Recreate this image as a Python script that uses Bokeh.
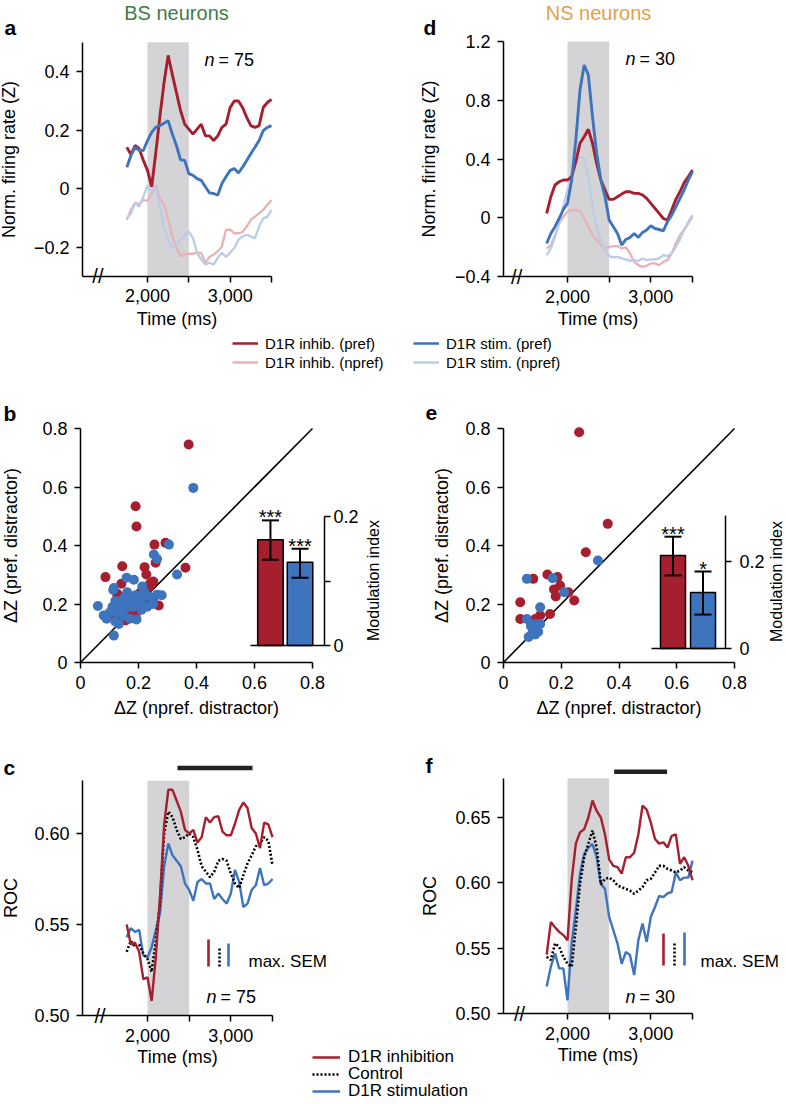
import math
from bokeh.plotting import figure
from bokeh.models import (Range1d, FixedTicker, CustomJSTickFormatter, NumeralTickFormatter,
                          LinearAxis, Label, Legend, LegendItem)
from bokeh.embed import file_html
from bokeh.resources import INLINE
from bokeh.core.properties import value

FONT = "Liberation Sans"
RED = "#a51f2e"
BLUE = "#3e73bd"
LRED = "#e8b2b6"
LBLUE = "#bacce6"
SHADE = "#d4d4d6"
GREEN = "#3e7d46"
ORANGE = "#e2a14a"

# ---------------- data ----------------
T = [1750, 1800, 1850, 1900, 1950, 2000, 2050, 2100, 2150, 2200, 2250, 2300, 2350, 2400, 2450,
     2500, 2550, 2600, 2650, 2700, 2750, 2800, 2850, 2900, 2950, 3000, 3050, 3100, 3150, 3200,
     3250, 3300, 3350, 3400, 3450, 3500]
STIM_PERIOD = [2000, 2500]

# panel a (BS neurons, normalised firing rate)
A_INHIB_PREF = [0.141, 0.116, 0.147, 0.136, 0.096, 0.062, 0.006, 0.121, 0.246, 0.362, 0.455, 0.39,
                0.328, 0.266, 0.22, 0.203, 0.186, 0.203, 0.22, 0.18, 0.18, 0.164, 0.18, 0.209,
                0.22, 0.277, 0.299, 0.299, 0.277, 0.243, 0.215, 0.209, 0.215, 0.277, 0.294, 0.305]
A_STIM_PREF = [0.073, 0.113, 0.141, 0.130, 0.130, 0.164, 0.192, 0.209, 0.215, 0.223, 0.232, 0.186,
               0.147, 0.098, 0.096, 0.051, 0.045, 0.034, 0.028, 0.006, -0.015, -0.017, -0.023, 0.017,
               0.040, 0.062, 0.068, 0.053, 0.073, 0.096, 0.119, 0.141, 0.164, 0.198, 0.209, 0.215]
A_INHIB_NPREF = [-0.107, -0.073, -0.049, -0.053, -0.04, -0.042, -0.017, 0.011, -0.034, -0.056, -0.107,
                 -0.164, -0.203, -0.232, -0.226, -0.223, -0.223, -0.22, -0.22, -0.254, -0.234, -0.226,
                 -0.215, -0.198, -0.141, -0.141, -0.153, -0.153, -0.149, -0.13, -0.107, -0.096,
                 -0.085, -0.073, -0.056, -0.04]
A_STIM_NPREF = [-0.102, -0.085, -0.051, -0.062, -0.028, 0.011, -0.011, 0.0, -0.062, -0.13, -0.175,
                -0.203, -0.192, -0.175, -0.158, -0.147, -0.17, -0.22, -0.243, -0.26, -0.254, -0.26,
                -0.237, -0.22, -0.234, -0.22, -0.203, -0.175, -0.164, -0.158, -0.164, -0.17, -0.13,
                -0.102, -0.096, -0.073]

# panel d (NS neurons)
D_INHIB_PREF = [0.03, 0.143, 0.223, 0.245, 0.257, 0.257, 0.28, 0.382, 0.507, 0.552, 0.602, 0.507,
                0.37, 0.257, 0.189, 0.125, 0.125, 0.143, 0.161, 0.177, 0.177, 0.166, 0.166, 0.155,
                0.132, 0.098, 0.064, 0.03, -0.005, -0.016, 0.052, 0.125, 0.177, 0.239, 0.28, 0.325]
D_STIM_PREF = [-0.175, -0.107, -0.061, -0.005, 0.057, 0.098, 0.257, 0.53, 0.87, 1.04, 0.973, 0.689,
               0.439, 0.257, 0.143, -0.016, -0.061, -0.107, -0.186, -0.148, -0.134, -0.107, -0.134,
               -0.1, -0.084, -0.055, -0.073, -0.08, -0.089, -0.027, 0.018, 0.075, 0.132, 0.189,
               0.257, 0.314]
D_INHIB_NPREF = [-0.209, -0.186, -0.118, -0.039, 0.007, 0.041, 0.052, 0.052, 0.048, -0.005, -0.061,
                 -0.118, -0.152, -0.186, -0.209, -0.198, -0.193, -0.193, -0.209, -0.202, -0.243,
                 -0.3, -0.323, -0.334, -0.327, -0.311, -0.311, -0.323, -0.3, -0.289, -0.243,
                 -0.175, -0.118, -0.08, -0.039, 0.007]
D_STIM_NPREF = [-0.255, -0.209, -0.13, -0.039, 0.075, 0.189, 0.28, 0.37, 0.416, 0.405, 0.28, 0.075,
                -0.061, -0.152, -0.22, -0.261, -0.27, -0.266, -0.277, -0.284, -0.293, -0.289,
                -0.293, -0.277, -0.289, -0.284, -0.284, -0.277, -0.255, -0.261, -0.243, -0.198,
                -0.148, -0.084, -0.027, 0.018]

# panel b scatter (BS): dZ npref (x) vs dZ pref (y)
B_INHIB_X = [0.373, 0.190, 0.193, 0.255, 0.293, 0.259, 0.221, 0.144, 0.227, 0.086, 0.251, 0.362,
             0.270, 0.141, 0.236, 0.127, 0.132, 0.155, 0.216, 0.127, 0.207, 0.224, 0.17, 0.20,
             0.12, 0.185, 0.25, 0.16, 0.11, 0.15, 0.19, 0.24]
B_INHIB_Y = [0.745, 0.534, 0.465, 0.403, 0.409, 0.341, 0.326, 0.329, 0.301, 0.292, 0.277, 0.324,
             0.195, 0.269, 0.257, 0.223, 0.149, 0.144, 0.246, 0.235, 0.240, 0.206, 0.17, 0.19,
             0.18, 0.225, 0.22, 0.21, 0.165, 0.19, 0.16, 0.27]
B_STIM_X = [0.389, 0.305, 0.253, 0.264, 0.333, 0.159, 0.184, 0.115, 0.213, 0.060, 0.080, 0.264,
            0.236, 0.207, 0.126, 0.193, 0.230, 0.115, 0.113, 0.132, 0.161, 0.132, 0.172, 0.207,
            0.161, 0.144, 0.10, 0.15, 0.18, 0.12, 0.14, 0.21, 0.17, 0.25, 0.19, 0.09, 0.16, 0.22,
            0.12, 0.28, 0.11, 0.20, 0.15]
B_STIM_Y = [0.597, 0.403, 0.369, 0.354, 0.301, 0.290, 0.283, 0.255, 0.260, 0.193, 0.161, 0.232,
            0.226, 0.223, 0.172, 0.147, 0.191, 0.092, 0.248, 0.132, 0.189, 0.195, 0.218, 0.212,
            0.240, 0.212, 0.17, 0.16, 0.19, 0.21, 0.17, 0.18, 0.15, 0.20, 0.23, 0.15, 0.20, 0.24,
            0.14, 0.23, 0.19, 0.20, 0.22]
# panel e scatter (NS)
E_INHIB_X = [0.262, 0.361, 0.285, 0.152, 0.187, 0.103, 0.196, 0.225, 0.181, 0.058, 0.245, 0.058,
             0.127, 0.161, 0.110, 0.175]
E_INHIB_Y = [0.787, 0.474, 0.377, 0.301, 0.292, 0.286, 0.263, 0.240, 0.226, 0.206, 0.212, 0.149,
             0.161, 0.166, 0.149, 0.25]
E_STIM_X = [0.327, 0.081, 0.170, 0.210, 0.127, 0.081, 0.110, 0.127, 0.087, 0.110, 0.100, 0.095, 0.120]
E_STIM_Y = [0.349, 0.286, 0.288, 0.240, 0.189, 0.149, 0.132, 0.132, 0.087, 0.096, 0.100, 0.125, 0.105]

# insets: modulation index (inhibition, stimulation)
B_MI = [0.164, 0.129]
B_MI_LO = [0.133, 0.105]
B_MI_HI = [0.194, 0.150]
B_SIG = ["***", "***"]
E_MI = [0.214, 0.129]
E_MI_LO = [0.168, 0.078]
E_MI_HI = [0.257, 0.177]
E_SIG = ["***", "*"]

# panel c (BS ROC)
C_INHIB = [0.550, 0.539, 0.540, 0.535, 0.520, 0.521, 0.508, 0.532, 0.565, 0.605, 0.624, 0.624,
           0.618, 0.612, 0.602, 0.600, 0.602, 0.595, 0.598, 0.609, 0.606, 0.609, 0.6095, 0.601,
           0.599, 0.599, 0.6055, 0.613, 0.617, 0.614, 0.603, 0.600, 0.592, 0.606, 0.605, 0.598]
C_CTRL = [0.535, 0.541, 0.5376, 0.539, 0.534, 0.531, 0.524, 0.541, 0.563, 0.600, 0.612, 0.609,
          0.602, 0.597, 0.598, 0.600, 0.598, 0.591, 0.582, 0.579, 0.576, 0.579, 0.585, 0.586,
          0.585, 0.578, 0.5725, 0.570, 0.577, 0.5835, 0.588, 0.593, 0.5945, 0.598, 0.596, 0.5825]
C_STIM = [0.543, 0.548, 0.546, 0.547, 0.533, 0.532, 0.5375, 0.547, 0.556, 0.582, 0.5945, 0.588,
          0.585, 0.582, 0.5725, 0.569, 0.563, 0.5734, 0.575, 0.5725, 0.5725, 0.564, 0.567, 0.564,
          0.5615, 0.567, 0.580, 0.5734, 0.5596, 0.5615, 0.569, 0.5716, 0.581, 0.5716, 0.5725, 0.575]
C_SEM = [0.0148, 0.0104, 0.0126]       # inhibition, control, stimulation
C_SIG_WINDOW = [2360, 3260]
# panel f (NS ROC)
F_INHIB = [0.545, 0.570, 0.566, 0.5625, 0.560, 0.556, 0.602, 0.630, 0.6386, 0.641, 0.650, 0.663,
           0.655, 0.650, 0.637, 0.618, 0.613, 0.612, 0.607, 0.6196, 0.6196, 0.623, 0.637, 0.659,
           0.656, 0.646, 0.6335, 0.630, 0.631, 0.627, 0.636, 0.637, 0.6145, 0.6196, 0.613, 0.602]
F_CTRL = [0.5434, 0.541, 0.5536, 0.551, 0.5434, 0.538, 0.5358, 0.566, 0.599, 0.6195, 0.63, 0.64,
          0.627, 0.599, 0.603, 0.604, 0.602, 0.598, 0.5967, 0.5954, 0.594, 0.5916, 0.594, 0.5967,
          0.602, 0.603, 0.608, 0.613, 0.613, 0.6107, 0.6094, 0.608, 0.6094, 0.612, 0.6094, 0.608]
F_STIM = [0.5206, 0.5358, 0.546, 0.5345, 0.5345, 0.510, 0.5536, 0.579, 0.607, 0.622, 0.627, 0.6297,
          0.6195, 0.599, 0.5954, 0.574, 0.5637, 0.5536, 0.538, 0.547, 0.5447, 0.5294, 0.556, 0.5688,
          0.5548, 0.574, 0.5815, 0.590, 0.589, 0.592, 0.593, 0.608, 0.602, 0.604, 0.604, 0.617]
F_SEM = [0.0245, 0.0176, 0.0253]
F_SIG_WINDOW = [2560, 3195]

# ---------------- page / panel geometry (pixels) ----------------
W, H = 786, 1102
NAN = float("nan")


def xr(v0, p0, v1, p1):
    s = (p1 - p0) / (v1 - v0)
    return Range1d(v0 - p0 / s, v0 + (W - p0) / s)


def yr(v0, q0, v1, q1):
    s = (q0 - q1) / (v1 - v0)
    return Range1d(v0 - (H - q0) / s, v0 + q0 / s)


p = figure(width=W, height=H, x_range=Range1d(0, W), y_range=Range1d(0, H), title=None,
           x_axis_location=None, y_axis_location=None, tools="",
           output_backend="svg", toolbar_location=None,
           min_border_left=0, min_border_right=0, min_border_top=0, min_border_bottom=0)
p.outline_line_color = None
p.grid.visible = False
p.background_fill_color = "white"
p.border_fill_color = "white"

p.extra_x_ranges = {
    "ax": xr(2000, 147, 3500, 271), "dx": xr(2000, 567, 3500, 692),
    "bx": xr(0, 80, 0.8, 312), "ex": xr(0, 503, 0.8, 734),
    "cx": xr(2000, 147, 3500, 272), "fx": xr(2000, 567, 3500, 692),
}
p.extra_y_ranges = {
    "ay": yr(0, 188, 0.4, 71), "dy": yr(-0.4, 276, 1.2, 41),
    "by": yr(0, 662, 0.8, 428), "ey": yr(0, 662, 0.8, 428),
    "bmi": yr(0, 645, 0.2, 516), "emi": yr(0, 648, 0.2, 561),
    "cy": yr(0.5, 1015, 0.6, 833), "fy": yr(0.5, 1013, 0.65, 817),
}


# ---------------- helpers ----------------
def num_fmt(dec):
    return CustomJSTickFormatter(code=f"""
        if (Math.abs(tick) < 1e-9) {{ return "0"; }}
        const s = Math.abs(tick).toFixed({dec});
        return (tick < 0 ? "\\u2212" : "") + s;
    """)


def add_axis(side, xn, yn, fixed, bounds, ticks, minor, fmt, label, lso, tso=7,
             label_size="18px"):
    ax = LinearAxis(x_range_name=xn, y_range_name=yn, fixed_location=fixed, bounds=bounds)
    ax.ticker = FixedTicker(ticks=ticks, minor_ticks=minor)
    ax.formatter = fmt
    ax.axis_label = label
    ax.axis_label_text_font = FONT
    ax.axis_label_text_font_size = label_size
    ax.axis_label_text_font_style = "normal"
    ax.axis_label_text_color = "black"
    ax.axis_label_standoff = lso
    ax.major_label_text_font = FONT
    ax.major_label_text_font_size = "18px"
    ax.major_label_text_color = "black"
    ax.major_label_standoff = tso
    ax.axis_line_color = "black"
    ax.axis_line_width = 1.5
    ax.major_tick_line_color = "black"
    ax.major_tick_line_width = 1.5
    ax.major_tick_in = 0
    ax.major_tick_out = 6
    ax.minor_tick_line_color = "black" if minor else None
    ax.minor_tick_line_width = 1.5
    ax.minor_tick_in = 0
    ax.minor_tick_out = 6
    p.add_layout(ax, side)
    return ax


def put(px, py, text, size="18px", align="left", color="black", style="normal", angle=0.0):
    p.add_layout(Label(x=px, y=H - py, x_units="screen", y_units="screen", text=text,
                       text_font=FONT, text_font_size=size, text_align=align,
                       text_baseline="middle", text_color=color, text_font_style=style,
                       angle=angle))


def legend_row(gx, cy, text, color, dash, size, glyph_w, standoff):
    # a renderer with one (invisible, NaN) point, used only as the legend key
    r = p.line([NAN], [NAN], line_color=color, line_width=2.5, line_dash=dash)
    leg = Legend(items=[LegendItem(label=value(text), renderers=[r])],
                 location=(gx, H - cy - 10), orientation="vertical",
                 label_text_font=FONT, label_text_font_size=size, label_text_color="black",
                 glyph_width=glyph_w, glyph_height=20, label_height=20,
                 label_standoff=standoff, spacing=0, padding=0, margin=0,
                 border_line_color=None, background_fill_alpha=0)
    p.add_layout(leg, "center")


def time_panel(k, t0, ymin, ytop, yticks, ydec, ylabel, ylso, xlso, brk):
    xn, yn = k + "x", k + "y"
    p.quad(left=[STIM_PERIOD[0]], right=[STIM_PERIOD[1]], bottom=[ymin], top=[ytop],
           fill_color=SHADE, line_color=None, x_range_name=xn, y_range_name=yn)
    add_axis("below", xn, yn, ymin, (t0, 3500), [2000, 3000], [2500, 3500],
             NumeralTickFormatter(format="0,0"), "Time (ms)", xlso)
    add_axis("left", xn, yn, t0, (ymin, ytop), yticks, [], num_fmt(ydec), ylabel, ylso)
    p.add_layout(Label(x=brk, y=ymin, x_range_name=xn, y_range_name=yn, text="//",
                       text_font=FONT, text_font_size="20px", text_align="center",
                       text_baseline="middle", text_color="black"))


def fr_lines(k, inhib_n, stim_n, inhib_p, stim_p):
    kw = dict(x_range_name=k + "x", y_range_name=k + "y")
    p.line(T, inhib_n, line_color=LRED, line_width=2.3, **kw)
    p.line(T, stim_n, line_color=LBLUE, line_width=2.3, **kw)
    p.line(T, inhib_p, line_color=RED, line_width=2.9, **kw)
    p.line(T, stim_p, line_color=BLUE, line_width=2.9, **kw)


def roc_lines(k, inhib, ctrl, stim, sem, sem_x, sem_base, sig, sig_y):
    kw = dict(x_range_name=k + "x", y_range_name=k + "y")
    p.line(T, stim, line_color=BLUE, line_width=2.4, **kw)
    p.line(T, ctrl, line_color="black", line_width=2.6, line_dash="2 2", **kw)
    p.line(T, inhib, line_color=RED, line_width=2.4, **kw)
    cols = [RED, "black", BLUE]
    dashes = ["solid", "2 2", "solid"]
    for i in range(3):
        p.segment(x0=[sem_x[i]], y0=[sem_base], x1=[sem_x[i]], y1=[sem_base + sem[i]],
                  line_color=cols[i], line_width=2.6, line_dash=dashes[i], **kw)
    p.segment(x0=[sig[0]], y0=[sig_y], x1=[sig[1]], y1=[sig_y], line_color="#222222",
              line_width=4.5, line_cap="butt", **kw)


def scatter_panel(k, ix, iy, sx, sy, mi, lo, hi, sig, bar_x, bar_w, base_x0, mi_axis_x,
                  mi_bounds, mi_ticks, mi_minor, ylso, mi_tso, mi_label_pos):
    xn, yn, mn = k + "x", k + "y", k + "mi"
    add_axis("below", xn, yn, 0, (0, 0.8), [0, 0.2, 0.4, 0.6, 0.8], [], num_fmt(1),
             "\u0394Z (npref. distractor)", 6)
    add_axis("left", xn, yn, 0, (0, 0.8), [0, 0.2, 0.4, 0.6, 0.8], [], num_fmt(1),
             "\u0394Z (pref. distractor)", ylso)
    p.line([0, 0.8], [0, 0.8], line_color="black", line_width=1.6, x_range_name=xn, y_range_name=yn)
    p.scatter(ix, iy, size=10, fill_color=RED, line_color=None, x_range_name=xn, y_range_name=yn)
    p.scatter(sx, sy, size=10, fill_color=BLUE, line_color=None, x_range_name=xn, y_range_name=yn)
    kw = dict(x_range_name=xn, y_range_name=mn)
    p.vbar(x=bar_x, top=mi, bottom=0, width=bar_w, fill_color=[RED, BLUE],
           line_color="black", line_width=1.5, **kw)
    p.line([base_x0, mi_axis_x], [0, 0], line_color="black", line_width=1.5, **kw)
    p.segment(x0=bar_x, y0=lo, x1=bar_x, y1=hi, line_color="black", line_width=2, **kw)
    p.scatter(bar_x + bar_x, lo + hi, marker="dash", size=17, line_color="black",
              line_width=2, **kw)
    p.text(x=bar_x, y=hi, text=sig, text_font=value(FONT), text_font_size="20px",
           text_align="center", text_baseline="alphabetic", y_offset=-3, **kw)
    add_axis("right", xn, mn, mi_axis_x, mi_bounds, mi_ticks, mi_minor, num_fmt(1),
             "", 0, tso=mi_tso, label_size="16px")
    put(mi_label_pos[0], mi_label_pos[1], "Modulation index", size="16px", align="center",
        angle=math.pi / 2)


# ---------------- panel a ----------------
time_panel("a", 1214, -0.3, 0.5, [-0.2, 0, 0.2, 0.4], 1, "Norm. firing rate (Z)", 12, 3, 1400)
fr_lines("a", A_INHIB_NPREF, A_STIM_NPREF, A_INHIB_PREF, A_STIM_PREF)
put(4, 27, "a", size="21px", style="bold")
put(176, 12, "BS neurons", size="20px", align="center", color=GREEN)
put(204, 59, "n", style="italic")
put(218, 59, "= 75")
legend_row(232, 343, "D1R inhib. (pref)", RED, "solid", "15px", 26, 7)
legend_row(232, 362, "D1R inhib. (npref)", LRED, "solid", "15px", 26, 7)

# ---------------- panel d ----------------
time_panel("d", 1232, -0.4, 1.2, [-0.4, 0, 0.4, 0.8, 1.2], 1, "Norm. firing rate (Z)", 13, 3, 1390)
fr_lines("d", D_INHIB_NPREF, D_STIM_NPREF, D_INHIB_PREF, D_STIM_PREF)
put(423, 27, "d", size="21px", style="bold")
put(598, 12, "NS neurons", size="20px", align="center", color=ORANGE)
put(625, 58, "n", style="italic")
put(639, 58, "= 30")
legend_row(413, 343, "D1R stim. (pref)", BLUE, "solid", "15px", 26, 7)
legend_row(413, 362, "D1R stim. (npref)", LBLUE, "solid", "15px", 26, 7)

# ---------------- panel b ----------------
scatter_panel("b", B_INHIB_X, B_INHIB_Y, B_STIM_X, B_STIM_Y, B_MI, B_MI_LO, B_MI_HI, B_SIG,
              [0.655, 0.757], 0.088, 0.586, 0.8414, (0, 0.2), [0, 0.2], [0.1], 18, 3,
              (373, 580))
put(3, 413, "b", size="21px", style="bold")

# ---------------- panel e ----------------
scatter_panel("e", E_INHIB_X, E_INHIB_Y, E_STIM_X, E_STIM_Y, E_MI, E_MI_LO, E_MI_HI, E_SIG,
              [0.587, 0.691], 0.0866, 0.5126, 0.769, (0, 0.306), [0, 0.2], [], 10, 8,
              (776, 581))
put(425, 412, "e", size="21px", style="bold")

# ---------------- panel c ----------------
time_panel("c", 1220, 0.5, 0.629, [0.50, 0.55, 0.60], 2, "ROC", 10, 2, 1430)
roc_lines("c", C_INHIB, C_CTRL, C_STIM, C_SEM, [2732, 2864, 2972], 0.5269, C_SIG_WINDOW, 0.636)
put(3, 767, "c", size="21px", style="bold")
put(206, 996, "n", style="italic")
put(220, 996, "= 75")
put(248, 961, "max. SEM", size="17px")

# ---------------- panel f ----------------
time_panel("f", 1232, 0.5, 0.68, [0.50, 0.55, 0.60, 0.65], 2, "ROC", 12, 2, 1425)
roc_lines("f", F_INHIB, F_CTRL, F_STIM, F_SEM, [3152, 3284, 3404], 0.5367, F_SIG_WINDOW, 0.685)
put(425, 765, "f", size="21px", style="bold")
put(625, 996, "n", style="italic")
put(639, 996, "= 30")
put(700, 961, "max. SEM", size="17px")

legend_row(312, 1057, "D1R inhibition", RED, "solid", "17px", 28, 8)
legend_row(312, 1074, "Control", "black", "2 2", "17px", 28, 8)
legend_row(312, 1091, "D1R stimulation", BLUE, "solid", "17px", 28, 8)

open("out.html", "w").write(file_html(p, INLINE))
